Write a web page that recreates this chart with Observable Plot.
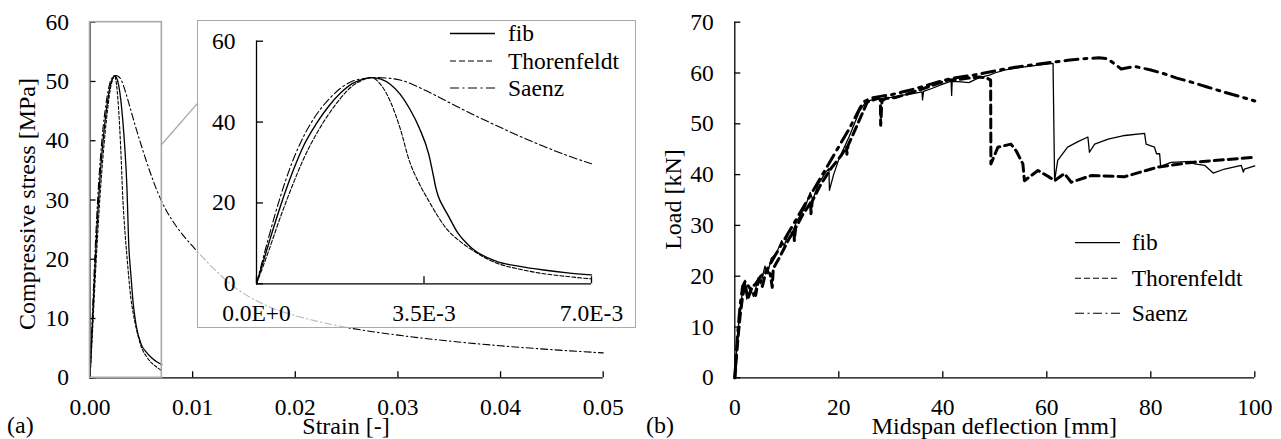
<!DOCTYPE html>
<html>
<head>
<meta charset="utf-8">
<script src="https://cdn.jsdelivr.net/npm/d3@7"></script>
<script src="https://cdn.jsdelivr.net/npm/@observablehq/plot@0.6"></script>
<style>
  html, body { margin: 0; padding: 0; background: #fff; }
  #chart { position: relative; width: 1281px; height: 439px; overflow: hidden; background: #fff;
           font-family: "Liberation Serif", "Times New Roman", serif; }
  #chart svg { position: absolute; }
  #chart svg text { font-family: "Liberation Serif", "Times New Roman", serif; }
</style>
</head>
<body>
<div id="chart"></div>
<script>
// ---------- Panel (a): compressive stress-strain models ----------
const fibStrain = [0,0.00025,0.0005,0.00075,0.001,0.00125,0.0015,0.00175,0.002,0.0022,0.0024,0.0026,0.0028,0.003,0.0032,0.0034,0.0036,0.0037,0.00375,0.0038,0.0039,0.004,0.0042,0.0045,0.005,0.0055,0.006,0.0065,0.007];
const fibStress = [0,9.8,19.2,27.5,34.5,39.6,43.8,47.1,49.5,50.5,51,50.6,49.3,46.9,43.3,38.6,32,26.5,23.6,21.6,19.1,17,12.7,8.8,5.6,4.3,3.4,2.7,2.2];

const thorStrain = [0,0.00025,0.0005,0.00075,0.001,0.00125,0.0014,0.0015,0.00175,0.002,0.0022,0.0024,0.0026,0.0028,0.003,0.0032,0.0034,0.0036,0.0038,0.004,0.0042,0.0045,0.005,0.0055,0.006,0.0065,0.007];
const thorStress = [0,8,16.5,24.3,31.3,37,40,41.8,45.8,48.9,50.3,51,49.2,45,38.5,30.2,24.8,20.5,16.5,13.2,11,8.4,5.2,3.6,2.5,1.8,1.2];

const saenzStrain = [0,0.00025,0.0005,0.00075,0.001,0.00125,0.0015,0.00175,0.002,0.0022,0.0025,0.0028,0.003,0.0035,0.004,0.0045,0.005,0.0055,0.006,0.0065,0.007,0.008,0.009,0.01,0.012,0.014,0.016,0.018,0.02,0.025,0.03,0.035,0.04,0.045,0.05];
const saenzStress = [0,11.3,21.6,30.2,36.8,41.8,45.5,48.3,50.1,50.7,51,50.8,50.4,48,45,42,39.2,36.5,34,31.7,29.7,26.6,24.2,22.2,18.5,15.4,13.2,11.6,10.5,8.5,7.2,6.2,5.4,4.75,4.2];

const strainTicks = [0,0.01,0.02,0.03,0.04,0.05];
const stressTicks = [0,10,20,30,40,50,60];
const insetStrainTicks = [0,0.0035,0.007];
const insetStrainLabels = ["0.0E+0","3.5E-3","7.0E-3"];
const insetStressTicks = [0,20,40,60];
const zoomBox = {x1: 0, x2: 0.007, y1: 0, y2: 60};
const callout = {x1: 0.007, y1: 39.4, x2: 0.01047, y2: 46.3};

// ---------- Panel (b): load-deflection ----------
const fibDefl = [0,0.5,1.0,1.5,2,2.3,3,3.6,4.5,5,5.8,6.3,7,8,9,9.5,10.5,11,12,13.5,14.5,15,16,17.5,18.1,18.2,19,20,22,24,25,26,28,30,32,34,36,36.1,36.3,38,40,41.6,41.7,41.8,43,45,47,49,50,52,55,58,61.2,61.5,62.1,64,66,67.9,68.2,69.2,71.8,75,78.8,79.1,80.7,81.1,81.7,81.9,83.9,87.8,88.4,90.4,92,94.2,97.4,97.8,98,100];
const fibLoad = [0,8,13.5,17,19.2,15.5,17.5,16,19.5,18.5,22,20.5,23.5,24.5,27,26,29,28.5,31,33.5,36.5,35,38,40.5,41.2,36.9,40,43,47.5,52.5,54,54.6,54.9,55.2,55.6,55.9,56.3,54.7,56.4,57,57.8,58.4,55.6,58.3,58.3,58.1,59.1,59.6,60,60.6,61.1,61.5,61.9,38.8,42.8,45.4,46.5,47.4,44.4,46,47,47.7,48.1,46,45.4,44.1,44.1,41.6,42.4,42.6,42.1,41.8,40.3,41.1,41.8,40.5,41.1,41.7];

const thorDefl = [0,0.5,1,1.5,2,2.5,3.2,4,4.6,5.3,6,6.8,7.2,7.4,8.5,9.5,10.5,11.4,11.45,11.7,13,14.6,14.65,14.9,16.5,18.5,20.5,21.5,21.55,21.8,23,24.5,25.5,27.5,28,28.05,28.3,29,31,33,35,37,39,41,43,45,47,48.5,49.2,49.25,50.6,53.1,54.1,55.4,55.7,58.3,60.5,61.5,63.4,64.7,68.5,75,81.4,87.8,100];
const thorLoad = [0,6.5,12,16,18.5,15.5,17.5,16.2,19.5,18,21,20.5,17.8,21.5,23.5,25.5,27.5,29,27,29.5,32,34.5,32.3,34.8,38,41.2,43.8,45.5,44,45.8,48.5,52,54.3,55,54.8,49.7,54.5,55,55.2,55.8,56.5,57.2,57.9,58.6,58.7,59,59.2,59,58.6,42.1,45.4,46,44.7,42.1,38.8,40.8,39.5,38.8,40.2,38.5,39.8,39.6,41.5,42.4,43.4];

const saenzDefl = [0,0.5,1,1.5,2,3,4,5,6,8,10,12,14,16,18,20,22,24,24.8,26,28,30,32,34,36,38,40,42,44,46,48,50,52,55,58,61,64,67,70,71.7,73,74.3,76.9,80,82.7,85,87.8,91,94.2,97,100];
const saenzLoad = [0,8,14,18,19,17.5,18.5,20,21,24.5,28,31.5,35,38.5,42,45.5,49,53,54.3,55,55.4,55.7,56.2,56.7,57.3,57.9,58.5,59,59.3,59.6,60,60.4,60.8,61.3,61.7,62.1,62.5,62.8,63,62.8,61.8,60.8,61.3,60.6,59.8,59,58.2,57.2,56.2,55.4,54.5];

const deflTicks = [0,20,40,60,80,100];
const loadTicks = [0,10,20,30,40,50,60,70];

const seriesNames = ["fib", "Thorenfeldt", "Saenz"];

// ---------- helpers ----------
const FONT = '"Liberation Serif", "Times New Roman", serif';
const zip = (a, b) => a.map((v, i) => [v, b[i]]);
const baseStyle = {fontFamily: FONT, fontSize: "23.5px", background: "transparent", color: "black", overflow: "visible"};
const chart = document.getElementById("chart");

function place(svg, left, top) {
  svg.style.left = left + "px";
  svg.style.top = top + "px";
  chart.appendChild(svg);
  return svg;
}

// ---------- Panel (a) main ----------
{
  const W = 640, H = 439, mL = 89.5, mR = 37.3, mT = 21.7, mB = 61.7;
  const pW = W - mL - mR, pH = H - mT - mB;
  const svg = Plot.plot({
    width: W, height: H, marginLeft: mL, marginRight: mR, marginTop: mT, marginBottom: mB,
    x: {domain: [0, 0.05]}, y: {domain: [0, 60]},
    style: baseStyle,
    marks: [
      Plot.line(zip(saenzStrain, saenzStress), {stroke: "black", strokeWidth: 1.1, strokeDasharray: "7,3,1.5,3", curve: "monotone-x"}),
      Plot.line(zip(thorStrain, thorStress), {stroke: "black", strokeWidth: 1.1, strokeDasharray: "3,2", curve: "monotone-x"}),
      Plot.line(zip(fibStrain, fibStress), {stroke: "black", strokeWidth: 1.3, curve: "monotone-x"}),
      Plot.ruleY([0], {stroke: "black", strokeWidth: 1.3}),
      Plot.ruleX([0], {stroke: "black", strokeWidth: 1.3}),
      Plot.tickX(strainTicks, {x: d => d, insetTop: pH - 6, stroke: "black", strokeWidth: 1.3}),
      Plot.tickY(stressTicks, {y: d => d, insetRight: pW - 6, stroke: "black", strokeWidth: 1.3}),
      Plot.axisX({ticks: strainTicks, tickSize: 0, tickPadding: 21, tickFormat: d3.format(".2f"), label: null}),
      Plot.axisY({ticks: stressTicks, tickSize: 0, tickPadding: 21, label: null}),
      Plot.rect([zoomBox], {x1: "x1", x2: "x2", y1: "y1", y2: "y2", fill: "none", stroke: "#a9a9a9", strokeWidth: 1.6}),
      Plot.link([callout], {x1: "x1", y1: "y1", x2: "x2", y2: "y2", stroke: "#a9a9a9", strokeWidth: 1.3})
    ]
  });
  place(svg, 0, 0);
}

// ---------- Panel (a) inset ----------
{
  const W = 439, H = 308, mL = 59, mR = 45, mT = 20.7, mB = 44.7;
  const pW = W - mL - mR, pH = H - mT - mB;
  const inSaenz = zip(saenzStrain, saenzStress).filter(d => d[0] <= 0.007);
  const svg = Plot.plot({
    width: W, height: H, marginLeft: mL, marginRight: mR, marginTop: mT, marginBottom: mB,
    x: {domain: [0, 0.007]}, y: {domain: [0, 60]},
    style: {...baseStyle, background: "rgba(255,255,255,0.72)"},
    marks: [
      Plot.line(inSaenz, {stroke: "black", strokeWidth: 1.1, strokeDasharray: "8,3,2,3", curve: "monotone-x"}),
      Plot.line(zip(thorStrain, thorStress), {stroke: "black", strokeWidth: 1.1, strokeDasharray: "4,2", curve: "monotone-x"}),
      Plot.line(zip(fibStrain, fibStress), {stroke: "black", strokeWidth: 1.4, curve: "monotone-x"}),
      Plot.ruleY([0], {stroke: "black", strokeWidth: 1.3}),
      Plot.ruleX([0], {stroke: "black", strokeWidth: 1.3}),
      Plot.tickX(insetStrainTicks, {x: d => d, insetTop: pH - 7, stroke: "black", strokeWidth: 1.3}),
      Plot.tickY(insetStressTicks, {y: d => d, insetRight: pW - 7, stroke: "black", strokeWidth: 1.3}),
      Plot.axisX({ticks: insetStrainTicks, tickSize: 0, tickPadding: 21, tickFormat: d => insetStrainLabels[insetStrainTicks.indexOf(d)], label: null}),
      Plot.axisY({ticks: insetStressTicks, tickSize: 0, tickPadding: 21, label: null})
    ]
  });
  svg.style.outline = "1.5px solid #a9a9a9";
  svg.style.outlineOffset = "-1.5px";
  place(svg, 197, 20);
}

// ---------- Panel (b) ----------
{
  const W = 641, H = 439, mL = 94.3, mR = 26.7, mT = 21.7, mB = 61.7;
  const pW = W - mL - mR, pH = H - mT - mB;
  const svg = Plot.plot({
    width: W, height: H, marginLeft: mL, marginRight: mR, marginTop: mT, marginBottom: mB,
    x: {domain: [0, 100]}, y: {domain: [0, 70]},
    style: baseStyle,
    marks: [
      Plot.line(zip(saenzDefl, saenzLoad), {stroke: "black", strokeWidth: 3, strokeDasharray: "13,6,3,6"}),
      Plot.line(zip(thorDefl, thorLoad), {stroke: "black", strokeWidth: 3, strokeDasharray: "9,5"}),
      Plot.line(zip(fibDefl, fibLoad), {stroke: "black", strokeWidth: 1.3}),
      Plot.ruleY([0], {stroke: "black", strokeWidth: 1.3}),
      Plot.ruleX([0], {stroke: "black", strokeWidth: 1.3}),
      Plot.tickX(deflTicks, {x: d => d, insetTop: pH - 6, stroke: "black", strokeWidth: 1.3}),
      Plot.tickY(loadTicks, {y: d => d, insetRight: pW - 6, stroke: "black", strokeWidth: 1.3}),
      Plot.axisX({ticks: deflTicks, tickSize: 0, tickPadding: 21, label: null}),
      Plot.axisY({ticks: loadTicks, tickSize: 0, tickPadding: 21, label: null})
    ]
  });
  place(svg, 640, 0);
}

// ---------- Overlay: titles, panel letters, legends ----------
{
  const ov = d3.select(chart).append("svg")
    .attr("width", 1281).attr("height", 439)
    .style("left", "0px").style("top", "0px")
    .style("font-family", FONT).style("pointer-events", "none");

  const txt = (x, y, s, size, anchor, rot) => {
    const t = ov.append("text").text(s).attr("font-size", size).attr("fill", "black")
      .attr("font-family", FONT)
      .attr("text-anchor", anchor || "start");
    if (rot) t.attr("transform", `translate(${x},${y}) rotate(-90)`);
    else t.attr("x", x).attr("y", y);
    return t;
  };
  txt(35, 204, "Compressive stress [MPa]", 24, "middle", true);
  txt(346, 434, "Strain [-]", 24, "middle");
  txt(7, 433, "(a)", 24, "start");
  txt(681, 199.5, "Load [kN]", 24, "middle", true);
  txt(994.3, 434, "Midspan deflection [mm]", 24, "middle");
  txt(646, 433, "(b)", 24, "start");

  const legendDash = [null, "6,3", "9,3.5,2,3.5"];
  const drawLegend = (x0, x1, tx, ys) => {
    seriesNames.forEach((name, i) => {
      const l = ov.append("line").attr("x1", x0).attr("x2", x1).attr("y1", ys[i]).attr("y2", ys[i])
        .attr("stroke", "black").attr("stroke-width", i === 0 ? 1.3 : 1.1);
      if (legendDash[i]) l.attr("stroke-dasharray", legendDash[i]);
      txt(tx, ys[i], name, 23.5, "start").attr("dy", "0.32em");
    });
  };
  drawLegend(450, 495, 508, [33.5, 61, 88]);
  drawLegend(1075, 1120, 1131.7, [242.7, 278.3, 313.3]);
}
</script>
</body>
</html>
